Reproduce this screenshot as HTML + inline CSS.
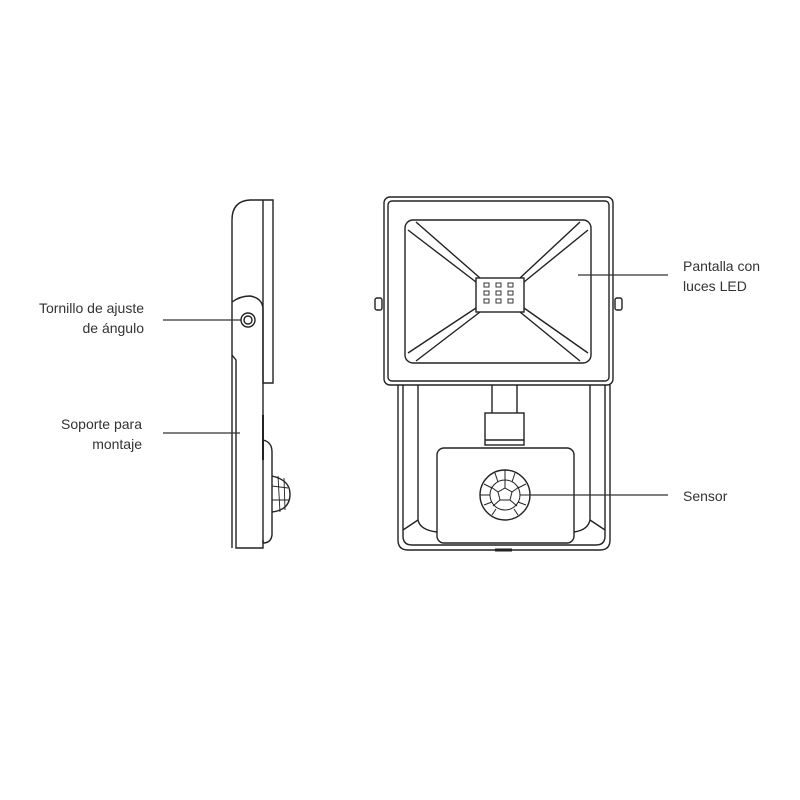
<!DOCTYPE html>
<html><head><style>
body{margin:0;background:#fff;}
.t{position:absolute;font-family:"Liberation Sans",sans-serif;font-size:14px;color:#333;line-height:20px;}
</style></head><body>
<div style="position:relative;width:800px;height:800px;overflow:hidden">
<svg width="800" height="800" style="position:absolute;left:0;top:0" fill="none" stroke="#222" stroke-width="1.4">
<!-- side view -->
<path d="M232,548 L232,220 Q232,201 250,200 L263,200 L263,383 L273,383 L273,200 L263,200"/>
<path d="M232,302 Q240,296 250,296 Q263,298 263,310 L263,543"/>
<path d="M232,355 L236,360 L236,548 L263,548 L263,540"/>
<path d="M263,440 Q272,442 272,452 L272,535 Q271,543 263,543"/>
<path d="M272,476 Q290,480 290,494 Q290,510 272,512" />
<path d="M272,486 L288,488 M272,500 L289,500 M278,476 L280,512 M284,478 L285,510" stroke-width="0.9"/>
<path d="M263,415 L263,460" stroke-width="2"/>
<circle cx="248" cy="320" r="7"/><circle cx="248" cy="320" r="4"/>
<!-- front view -->
<rect x="384" y="197" width="229" height="188" rx="6"/>
<rect x="388" y="201" width="221" height="180" rx="4"/>
<rect x="405" y="220" width="186" height="143" rx="8"/>
<rect x="476" y="278" width="48" height="34"/>
<path d="M408,230 L476,282 M416,222 L480,278 M588,230 L524,282 M580,222 L520,278 M408,353 L476,308 M416,361 L480,312 M588,353 L524,308 M580,361 L520,312"/>
<g stroke-width="0.9">
<rect x="484" y="283" width="5" height="4"/><rect x="496" y="283" width="5" height="4"/><rect x="508" y="283" width="5" height="4"/>
<rect x="484" y="291" width="5" height="4"/><rect x="496" y="291" width="5" height="4"/><rect x="508" y="291" width="5" height="4"/>
<rect x="484" y="299" width="5" height="4"/><rect x="496" y="299" width="5" height="4"/><rect x="508" y="299" width="5" height="4"/>
</g>
<rect x="375" y="298" width="7" height="12" rx="2"/><rect x="615" y="298" width="7" height="12" rx="2"/>
<path d="M398,385 L398,540 Q398,550 408,550 L600,550 Q610,550 610,540 L610,385"/>
<path d="M403,385 L403,536 Q403,545 412,545 L596,545 Q605,545 605,536 L605,385"/>
<path d="M418,385 L418,520 Q420,530 437,532 M590,385 L590,520 Q588,530 574,532"/>
<path d="M403,530 L418,520 M605,530 L590,520"/>
<path d="M492,385 L492,413 M517,385 L517,413"/>
<rect x="485" y="413" width="39" height="32"/>
<path d="M485,440 L524,440"/>
<rect x="437" y="448" width="137" height="95" rx="7"/>
<path d="M495,550 L512,550" stroke-width="3"/>
<circle cx="505" cy="495" r="25"/>
<g stroke-width="1">
<polygon points="505,488 512,492 510,500 500,500 498,492"/>
<circle cx="505" cy="495" r="15"/>
<path d="M505,480 L505,488 M512,492 L519,487 M510,500 L517,506 M500,500 L493,506 M498,492 L491,487 M505,470 L505,480 M520,495 L530,495 M480,495 L490,495 M495,473 L498,482 M515,473 L512,482 M492,515 L496,509 M518,515 L514,509 M484,505 L492,502 M526,505 L518,502 M484,484 L492,488 M526,484 L518,488"/>
</g>
<!-- leader lines -->
<g stroke="#333" stroke-width="1.2">
<path d="M163,320 L241,320 M163,433 L240,433 M578,275 L668,275 M530,495 L668,495"/>
</g>
</svg>
<div class="t" style="left:16px;top:298px;text-align:right;width:128px">Tornillo de ajuste<br>de ángulo</div>
<div class="t" style="left:16px;top:414px;text-align:right;width:126px">Soporte para<br>montaje</div>
<div class="t" style="left:683px;top:256px">Pantalla con<br>luces LED</div>
<div class="t" style="left:683px;top:486px">Sensor</div>
</div>
</body></html>
